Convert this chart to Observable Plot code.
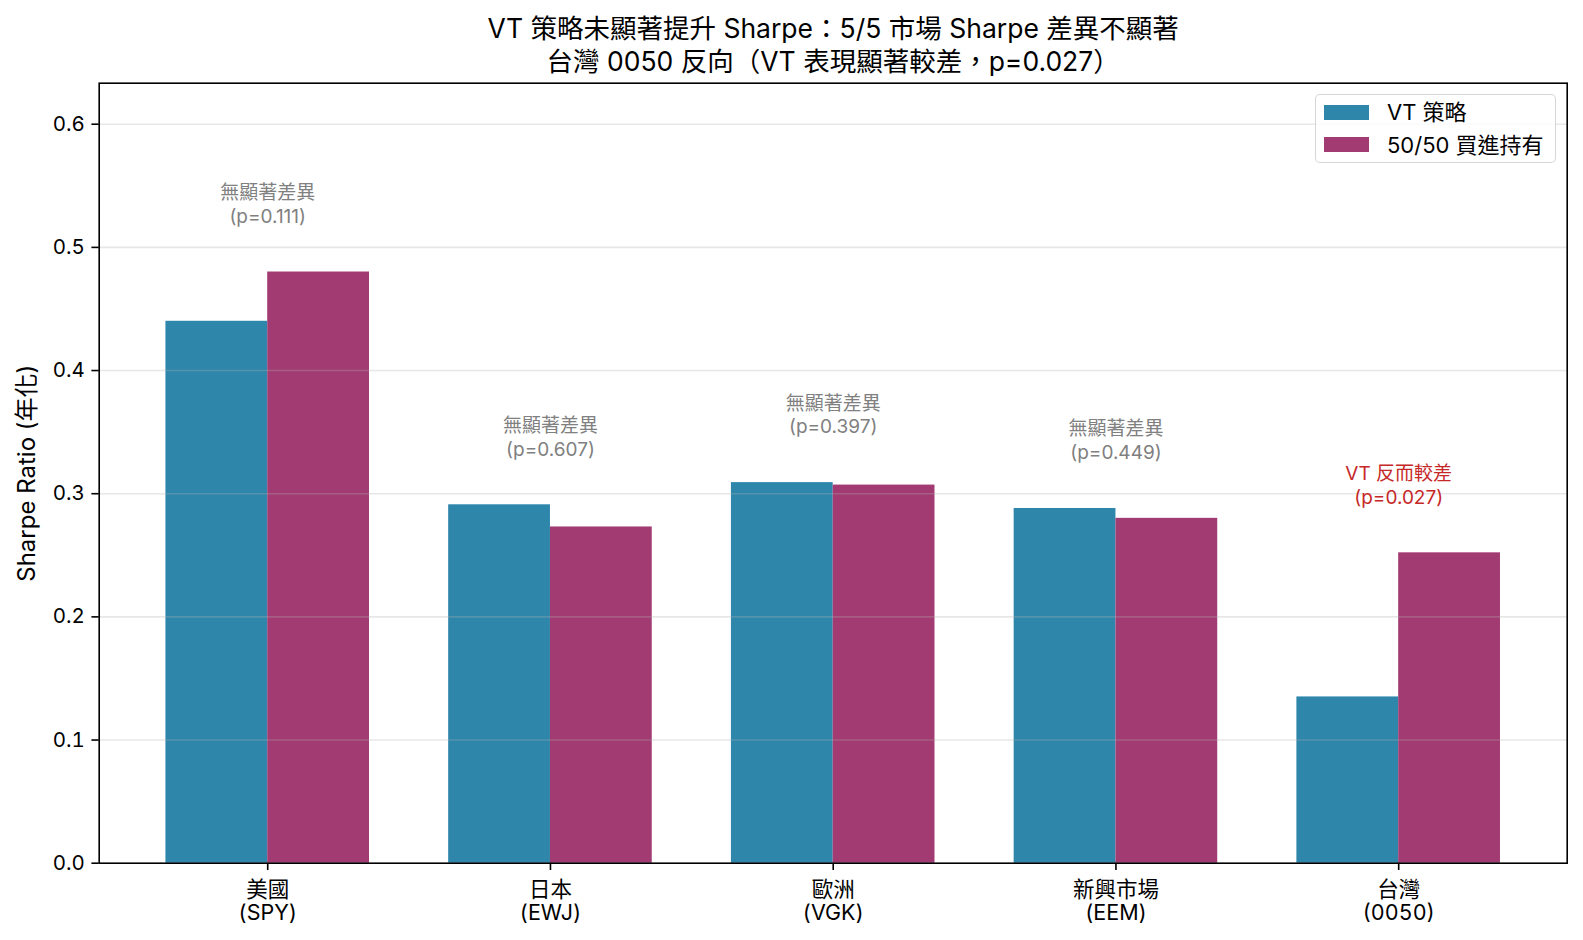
<!DOCTYPE html>
<html><head><meta charset="utf-8">
<script src="https://cdn.jsdelivr.net/npm/d3@7"></script>
<script src="https://cdn.jsdelivr.net/npm/@observablehq/plot@0.6"></script>
<style>
body{margin:0;background:#fff;}
#wrap{position:relative;width:1583px;height:940px;font-family:Inter,"Noto Sans CJK TC",sans-serif;}
#wrap svg{position:absolute;left:0;top:0;}
.legend{position:absolute;left:1315px;top:94px;width:239px;height:67px;border:1.6px solid rgba(204,204,204,0.8);border-radius:5px;background:rgba(255,255,255,0.8);}
.legend .row{position:absolute;left:0;height:32px;display:flex;align-items:center;white-space:nowrap;}
.legend .sw{width:45px;height:15px;margin-left:8px;margin-right:18px;}
.legend .lab{font-size:22px;color:#000;line-height:1;}
</style></head><body><div id="wrap"></div>
<script>
const markets = ["美國","日本","歐洲","新興市場","台灣"];
const tickers = ["SPY","EWJ","VGK","EEM","0050"];
const series = ["VT 策略","50/50 買進持有"];
const vtSharpe = [0.440,0.291,0.309,0.288,0.135];
const bhSharpe = [0.480,0.273,0.307,0.280,0.252];
const pValues = [0.111,0.607,0.397,0.449,0.027];
const verdicts = ["無顯著差異","無顯著差異","無顯著差異","無顯著差異","VT 反而較差"];
const yTicks = [0,0.1,0.2,0.3,0.4,0.5,0.6];
const yLabel = "Sharpe Ratio (年化)";
const titleLines = ["VT 策略未顯著提升 Sharpe：5/5 市場 Sharpe 差異不顯著","台灣 0050 反向（VT 表現顯著較差，p=0.027）"];
const colors = ["#2E86AB","#A23B72"];

const W = 0.36;
const vtRows = markets.map((m,i)=>({x1:i-W,x2:i,y0:0,v:vtSharpe[i]}));
const bhRows = markets.map((m,i)=>({x1:i,x2:i+W,y0:0,v:bhSharpe[i]}));
const notes = markets.map((m,i)=>({i, y:Math.max(vtSharpe[i],bhSharpe[i])+0.04,
  text:`${verdicts[i]}\n(p=${pValues[i].toFixed(3)})`, sig:pValues[i]<0.05}));

const font = 'Inter,"Noto Sans CJK TC",sans-serif';
const chart = Plot.plot({
  width:1583, height:940,
  marginTop:82.7, marginLeft:98.7, marginRight:16.3, marginBottom:77.3,
  x:{type:"linear", domain:[-0.596,4.596]},
  y:{domain:[0,0.6333]},
  style:{fontFamily:font, background:"#fff", color:"#000", overflow:"visible"},
  marks:[
    Plot.rect(vtRows,{x1:"x1",x2:"x2",y1:"y0",y2:"v",fill:colors[0]}),
    Plot.rect(bhRows,{x1:"x1",x2:"x2",y1:"y0",y2:"v",fill:colors[1]}),
    Plot.ruleY(yTicks.slice(1),{stroke:"#b0b0b0",strokeOpacity:0.3,strokeWidth:1.6}),
    Plot.text(notes.filter(d=>!d.sig),{x:"i",y:"y",text:"text",lineAnchor:"bottom",lineHeight:1.25,fontSize:19,fill:"#808080"}),
    Plot.text(notes.filter(d=>d.sig),{x:"i",y:"y",text:"text",lineAnchor:"bottom",lineHeight:1.25,fontSize:19,fill:"#C62828"}),
    Plot.frame({stroke:"#000",strokeWidth:1.6}),
    Plot.axisY({ticks:yTicks,tickFormat:d3.format(".1f"),tickSize:7.3,tickPadding:7,fontSize:20.5,strokeWidth:1.6,label:null}),
    Plot.axisX({ticks:d3.range(markets.length),tickFormat:i=>`${markets[i]}\n(${tickers[i]})`,tickSize:7.3,tickPadding:9.5,fontSize:21.5,lineHeight:1.1,strokeWidth:1.6,label:null}),
    Plot.text([yLabel],{text:d=>d,frameAnchor:"left",textAnchor:"middle",dx:-71.7,rotate:-90,fontSize:24}),
    Plot.text([titleLines.join("\n")],{text:d=>d,frameAnchor:"top",dy:-12.7,lineAnchor:"bottom",lineHeight:1.245,fontSize:26.5})
  ]
});
const wrap = document.getElementById("wrap");
wrap.appendChild(chart);
const lg = document.createElement("div");
lg.className = "legend";
series.forEach((s,k)=>{
  const row = document.createElement("div");
  row.className = "row";
  row.style.top = (1 + k*32.5) + "px";
  row.innerHTML = `<div class="sw" style="background:${colors[k]}"></div><div class="lab">${s}</div>`;
  lg.appendChild(row);
});
wrap.appendChild(lg);
</script></body></html>
